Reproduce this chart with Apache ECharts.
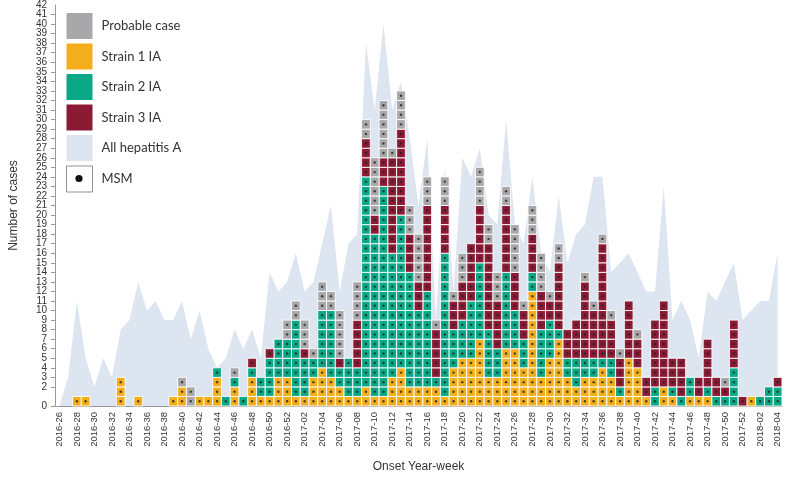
<!DOCTYPE html>
<html><head><meta charset="utf-8">
<script src="https://cdn.jsdelivr.net/npm/echarts@6/dist/echarts.min.js"></script>
<style>html,body{margin:0;padding:0;background:#fff}#c{width:785px;height:478px}</style>
</head><body><div id="c"></div>
<script>
const weeks = [
 '2016-26','2016-27','2016-28','2016-29','2016-30','2016-31','2016-32','2016-33','2016-34','2016-35',
 '2016-36','2016-37','2016-38','2016-39','2016-40','2016-41','2016-42','2016-43','2016-44','2016-45',
 '2016-46','2016-47','2016-48','2016-49','2016-50','2016-51','2016-52','2017-01','2017-02','2017-03',
 '2017-04','2017-05','2017-06','2017-07','2017-08','2017-09','2017-10','2017-11','2017-12','2017-13',
 '2017-14','2017-15','2017-16','2017-17','2017-18','2017-19','2017-20','2017-21','2017-22','2017-23',
 '2017-24','2017-25','2017-26','2017-27','2017-28','2017-29','2017-30','2017-31','2017-32','2017-33',
 '2017-34','2017-35','2017-36','2017-37','2017-38','2017-39','2017-40','2017-41','2017-42','2017-43',
 '2017-44','2017-45','2017-46','2017-47','2017-48','2017-49','2017-50','2017-51','2017-52','2018-01',
 '2018-02','2018-03','2018-04'];
const strain1 = [
 0,0,1,1,0,0,0,3,0,1,
 0,0,0,1,2,0,1,1,3,0,
 2,0,3,1,1,3,3,1,1,3,
 4,3,2,1,1,2,1,1,3,4,
 2,2,2,2,1,4,5,5,7,3,
 3,6,6,4,12,3,5,7,3,2,
 3,3,4,3,1,5,4,1,0,2,
 1,0,1,1,1,0,0,0,0,1,
 0,0,0];
const strain2 = [
 0,0,0,0,0,0,0,0,0,0,
 0,0,0,0,0,0,0,0,1,1,
 1,1,1,2,4,4,4,8,4,2,
 6,7,2,4,3,22,17,22,13,16,
 12,8,10,1,15,4,4,6,8,5,
 3,8,4,3,2,5,4,1,2,3,
 2,2,1,2,1,0,0,0,2,0,
 1,1,2,0,1,1,1,4,0,0,
 1,2,2];
const strain3 = [
 0,0,0,0,0,0,0,0,0,0,
 0,0,0,0,0,0,0,0,0,0,
 0,0,1,0,1,0,0,0,1,0,
 0,0,1,0,5,4,2,3,10,9,
 4,3,9,5,5,3,4,6,6,9,
 5,7,4,3,4,4,2,7,3,4,
 8,5,12,4,3,6,3,2,7,9,
 3,4,0,2,5,2,1,5,1,0,
 0,0,1];
const probable = [
 0,0,0,0,0,0,0,0,0,0,
 0,0,0,0,1,2,0,0,0,0,
 1,0,0,0,0,0,2,2,3,1,
 3,2,5,0,4,2,6,6,1,4,
 3,5,3,1,3,1,3,0,4,2,
 3,2,5,1,3,4,1,2,0,0,
 1,1,1,1,1,0,1,0,0,0,
 0,0,0,0,0,0,1,0,0,0,
 0,0,0];
const allHepA = [
 0,3,11,5,2,5,3,8,9,13,
 10,11,9,9,11,7,10,6,4,5,
 8,6,8,5,14,12,13,16,12,13,
 17,21,12,17,18,38,31,40,31,34,
 28,21,28,9,25,12,26,24,27,20,
 19,30,19,17,24,16,14,22,15,18,
 19,24,24,14,15,16,14,12,12,23,
 9,11,9,5,12,11,13,15,9,10,
 11,11,16];
const yMax = 42;

const C_PROB = '#a8a8aa', C_S1 = '#f2ae1c', C_S2 = '#0aa886', C_S3 = '#8b1b35', C_ALL = '#dce5f0';

// stacking order bottom -> top
const stackOrder = [
  {name:'Strain 1 IA', values:strain1, color:C_S1},
  {name:'Strain 2 IA', values:strain2, color:C_S2},
  {name:'Strain 3 IA', values:strain3, color:C_S3},
  {name:'Probable case', values:probable, color:C_PROB}
];
const base = weeks.map(() => 0);
const cellSeries = [];
const dots = [];
stackOrder.forEach(s => {
  const data = [];
  s.values.forEach((n, i) => {
    data.push([i, base[i], n]);
    for (let k = 0; k < n; k++) dots.push([i, base[i] + k + 0.5]);
    base[i] += n;
  });
  cellSeries.push({
    name: s.name, type: 'custom', z: 3,
    itemStyle: {color: s.color},
    encode: {x: 0, y: 1},
    data: data,
    renderItem: function (params, api) {
      const i = api.value(0), b = api.value(1), n = api.value(2);
      if (!n) return null;
      const sz = api.size([1, 1]);
      const children = [];
      for (let k = 0; k < n; k++) {
        const p = api.coord([i, b + k + 1]);
        children.push({type: 'rect',
          shape: {x: p[0] - sz[0] / 2, y: p[1], width: sz[0], height: sz[1]},
          style: {fill: s.color, stroke: '#ffffff', lineWidth: 0.9}});
      }
      return {type: 'group', children: children};
    }
  });
});

const chart = echarts.init(document.getElementById('c'));
const font = 'Liberation Sans, Arial, sans-serif';
const yLabelStyle = {fontSize: 10, color: '#333', fontFamily: font, margin: 8};
chart.setOption({
  animation: false,
  grid: {left: 43, right: 3, top: 5, bottom: 67},
  legend: {
    orient: 'vertical', left: 66, top: 13, padding: 0, itemWidth: 26, itemHeight: 26, itemGap: 4.5,
    selectedMode: false,
    textStyle: {fontSize: 13, color: '#333', fontFamily: 'Lato, sans-serif', padding: [0, 0, 0, 4]},
    data: [
      {name: 'Probable case', icon: 'rect'},
      {name: 'Strain 1 IA', icon: 'rect'},
      {name: 'Strain 2 IA', icon: 'rect'},
      {name: 'Strain 3 IA', icon: 'rect'},
      {name: 'All hepatitis A', icon: 'rect'},
      {name: 'MSM', icon: 'rect', itemStyle: {color: '#ffffff', borderColor: '#777', borderWidth: 1}}
    ]
  },
  graphic: [{type: 'circle', shape: {cx: 79, cy: 178.5, r: 3.6}, style: {fill: '#111'}, z: 100}],
  xAxis: {
    type: 'category', data: weeks, boundaryGap: true,
    name: 'Onset Year-week', nameLocation: 'middle', nameGap: 55,
    nameTextStyle: {fontSize: 12, color: '#333', fontFamily: font},
    axisLine: {lineStyle: {color: '#999'}},
    axisTick: {alignWithLabel: true, interval: 1, length: 4, lineStyle: {color: '#999'}},
    axisLabel: {interval: 1, rotate: 90, fontSize: 9.5, color: '#333', fontFamily: font, margin: 6}
  },
  yAxis: [{
    type: 'value', min: 0, max: yMax, interval: 1,
    name: 'Number of cases', nameLocation: 'middle', nameGap: 35,
    nameTextStyle: {fontSize: 12, color: '#333', fontFamily: font},
    axisLine: {show: true, lineStyle: {color: '#999'}},
    axisTick: {show: true, length: 4, lineStyle: {color: '#999'}},
    splitLine: {show: false},
    axisLabel: Object.assign({showMinLabel: true, showMaxLabel: false, hideOverlap: false}, yLabelStyle)
  }, {
    type: 'value', min: 0, max: yMax, interval: 1, position: 'left',
    axisLine: {show: false}, axisTick: {show: false}, splitLine: {show: false},
    axisLabel: Object.assign({showMinLabel: false, showMaxLabel: true, hideOverlap: false,
      formatter: v => (v === yMax ? String(v) : '')}, yLabelStyle)
  }],
  series: [
    {name: 'All hepatitis A', type: 'line', data: allHepA, symbol: 'none', z: 1,
     itemStyle: {color: C_ALL}, lineStyle: {width: 0, color: C_ALL},
     areaStyle: {color: C_ALL, opacity: 1}}
  ].concat(cellSeries).concat([
    {name: 'MSM', type: 'scatter', data: dots, symbol: 'circle', symbolSize: 2.4, z: 5,
     itemStyle: {color: '#222', opacity: 0.8}, silent: true}
  ])
});
</script></body></html>
